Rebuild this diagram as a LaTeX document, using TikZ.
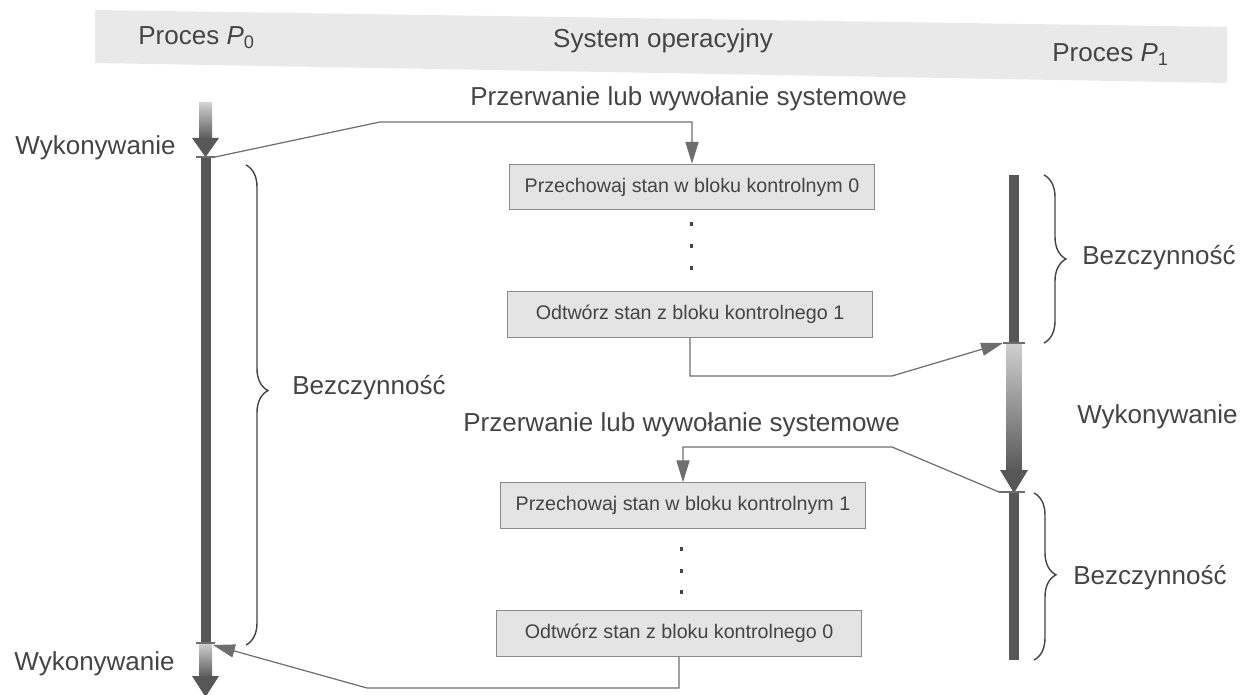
\documentclass[tikz,border=0pt]{standalone}
\usepackage{fontspec}
\setmainfont{Liberation Sans}
\usetikzlibrary{arrows.meta,decorations.pathreplacing}
\definecolor{ink}{HTML}{444444}
\definecolor{bar}{HTML}{575757}
\definecolor{wire}{HTML}{6E6E6E}
\definecolor{boxfill}{HTML}{E4E4E4}
\definecolor{boxline}{HTML}{8A8A8A}
\definecolor{band}{HTML}{E9E9E9}
\definecolor{shaftlight}{HTML}{D0D0D0}

\begin{document}
\begin{tikzpicture}[x=0.02cm,y=-0.02cm,
  lbl/.style={font=\fontsize{14.8pt}{17pt}\selectfont, text=ink, inner sep=0pt},
  stepbox/.style={draw=boxline, fill=boxfill, line width=0.6pt,
    minimum width=7.3cm, minimum height=0.91cm, inner sep=0pt,
    font=\fontsize{11.2pt}{13pt}\selectfont, text=ink},
  wirec/.style={draw=wire, line width=0.7pt},
  tipc/.style={-{Triangle[length=12.5pt,width=7.5pt]}},
  tick/.style={draw=wire, line width=0.6pt},
  brc/.style={draw=ink, line width=0.8pt, decorate,
    decoration={brace, amplitude=0.44cm, aspect=#1}},
  brc/.default=0.5,
  dot/.style={fill=ink},
]
\useasboundingbox (0,0) rectangle (1260,695);

% header band
\fill[band] (95,10) -- (1227,27) -- (1227,83) -- (95,63) -- cycle;

% column headings
\node[lbl, anchor=base west] (h0) at (138,45) {Proces \textit{P}\textsubscript{0}};
\node[lbl, anchor=base] (hs) at (663,48) {System operacyjny};
\node[lbl, anchor=base west] (h1) at (1052,62) {Proces \textit{P}\textsubscript{1}};

% ---------------- process P0 timeline ----------------
\shade[top color=shaftlight, bottom color=bar] (199,103) rectangle (212,140);
\fill[bar] (192,138) -- (219,138) -- (205.5,157) -- cycle;
\fill[bar] (201,157) rectangle (211,643);
\shade[top color=shaftlight, bottom color=bar] (199,643) rectangle (212,678);
\fill[bar] (192,676) -- (219,676) -- (205.5,697) -- cycle;
\coordinate (p0a) at (215,157);
\coordinate (p0b) at (213,645);
\draw[tick] (196,157) -- (p0a);
\draw[tick] (196,643) -- (215,643);

\node[lbl, anchor=base east] (w0a) at (176,155) {Wykonywanie};
\node[lbl, anchor=base east] (w0b) at (175,670) {Wykonywanie};
\draw[brc=0.47] (246,165) -- (246,645);
\node[lbl, anchor=base west] (b0) at (292,395) {Bezczynność};

% ---------------- process P1 timeline ----------------
\fill[bar] (1009,175) rectangle (1019,343);
\shade[top color=shaftlight, bottom color=bar] (1006.5,343) rectangle (1021.5,472);
\fill[bar] (1000,470) -- (1028,470) -- (1014,493) -- cycle;
\fill[bar] (1009,492) rectangle (1019,660);
\coordinate (p1a) at (1003,343);
\coordinate (p1b) at (999,492);
\draw[tick] (p1a) -- (1025,343);
\draw[tick] (p1b) -- (1025,492);

\draw[brc=0.5] (1044,175) -- (1044,343);
\node[lbl, anchor=base west] (b1a) at (1082,265) {Bezczynność};
\node[lbl, anchor=base west] (w1) at (1077,423) {Wykonywanie};
\draw[brc=0.49] (1034,493) -- (1034,660);
\node[lbl, anchor=base west] (b1b) at (1073,584) {Bezczynność};

% ---------------- operating system ----------------
\node[lbl, anchor=base west] (irq1) at (470,106) {Przerwanie lub wywołanie systemowe};
\node[lbl, anchor=base west] (irq2) at (463,432) {Przerwanie lub wywołanie systemowe};

\node[stepbox] (s0) at (692,187) {Przechowaj stan w bloku kontrolnym 0};
\node[stepbox] (r1) at (690,314.5) {Odtwórz stan z bloku kontrolnego 1};
\node[stepbox] (s1) at (683,505.5) {Przechowaj stan w bloku kontrolnym 1};
\node[stepbox] (r0) at (679,633.5) {Odtwórz stan z bloku kontrolnego 0};

\foreach \yy in {224,246,268} \fill[dot] (689.5,\yy-1.8) rectangle (692.5,\yy+1.8);
\foreach \yy in {549,571,592} \fill[dot] (679.5,\yy-1.8) rectangle (682.5,\yy+1.8);

% ---------------- transfers of control ----------------
\coordinate (c1) at (380,122);
\coordinate (c2) at (892,376);
\coordinate (c3) at (892,447);
\coordinate (c4) at (367,688);

\draw[wirec, tipc] (p0a) -- (c1) -| (s0.north);
\draw[wirec, tipc] (r1.south) |- (c2) -- (p1a);
\draw[wirec, tipc] (p1b) -- (c3) -| (s1.north);
\draw[wirec, tipc] (r0.south) |- (c4) -- (p0b);
\end{tikzpicture}
\end{document}
